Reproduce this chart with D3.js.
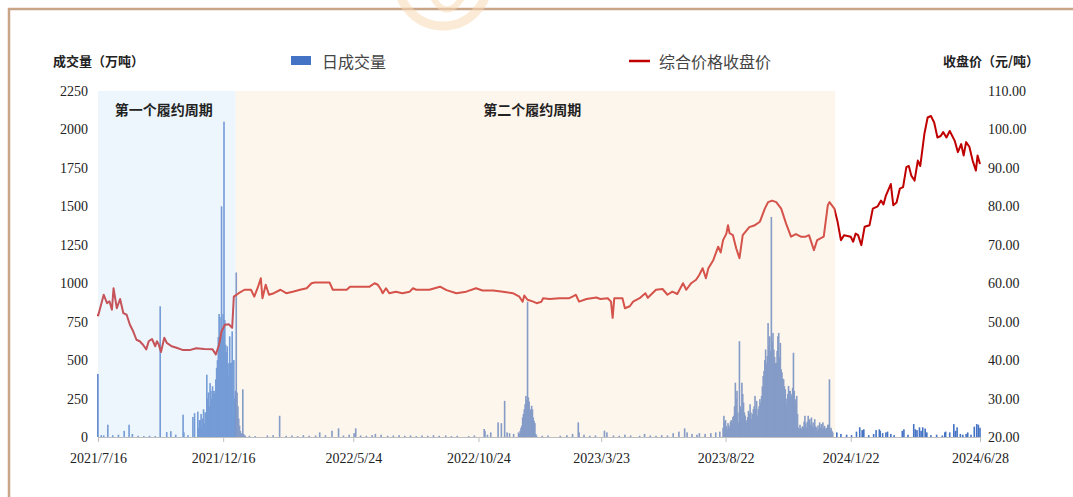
<!DOCTYPE html>
<html><head><meta charset="utf-8">
<script src="https://cdn.jsdelivr.net/npm/d3@7"></script>
<style>body{margin:0;background:#fff}svg{display:block}</style>
</head><body><svg id="c" width="1073" height="497"></svg>
<script>
// ---------------- DATA ----------------
const xTickLabels = ["2021/7/16","2021/12/16","2022/5/24","2022/10/24","2023/3/23","2023/8/22","2024/1/22","2024/6/28"];
const volumeTicks = [0,250,500,750,1000,1250,1500,1750,2000,2250];
const priceTicks = [20,30,40,50,60,70,80,90,100,110];
const periodNames = ["第一个履约周期","第二个履约周期"];
const periodStarts = ["2021-07-16","2021-12-31"];
const periodEnds = ["2021-12-31","2024-01-03"];

// 综合价格收盘价 (元/吨)
const closePrice = [
["2021-07-16",51.4],["2021-07-23",57.0],["2021-07-27",54.8],["2021-07-30",55.3],["2021-08-02",53.1],["2021-08-04",58.7],["2021-08-08",53.5],["2021-08-12",55.9],["2021-08-16",52.2],["2021-08-20",51.8],["2021-08-24",49.2],["2021-08-28",47.5],["2021-09-01",45.3],["2021-09-05",44.9],["2021-09-09",44.0],["2021-09-13",42.8],["2021-09-16",44.9],["2021-09-20",45.5],["2021-09-24",43.6],["2021-09-26",44.9],["2021-09-28",44.2],["2021-10-01",42.1],["2021-10-05",45.8],["2021-10-08",44.5],["2021-10-14",43.6],["2021-10-20",43.2],["2021-10-28",42.6],["2021-11-05",42.6],["2021-11-13",43.1],["2021-11-23",42.9],["2021-12-03",42.8],["2021-12-07",41.5],["2021-12-11",44.0],["2021-12-14",47.5],["2021-12-18",49.2],["2021-12-23",49.3],["2021-12-27",48.4],["2021-12-29",56.5],
["2022-01-04",57.4],["2022-01-11",58.3],["2022-01-19",58.3],["2022-01-23",56.5],["2022-01-27",58.7],["2022-01-31",61.3],["2022-02-02",56.1],["2022-02-06",59.6],["2022-02-10",57.0],["2022-02-16",57.4],["2022-02-24",58.3],["2022-03-03",57.4],["2022-03-11",57.8],["2022-03-20",58.3],["2022-03-28",58.7],["2022-04-03",60.0],["2022-04-07",60.2],["2022-04-25",60.2],["2022-04-29",58.3],["2022-05-16",58.3],["2022-05-20",59.1],["2022-06-13",59.1],["2022-06-19",60.0],["2022-06-23",59.6],["2022-06-27",58.3],["2022-06-29",57.4],["2022-07-03",58.7],["2022-07-07",57.4],["2022-07-15",57.8],["2022-07-23",57.4],["2022-08-01",57.8],["2022-08-05",58.7],["2022-08-09",58.3],["2022-08-25",58.3],["2022-09-07",59.1],["2022-09-15",58.2],["2022-09-27",57.4],["2022-10-09",57.8],["2022-10-21",58.7],["2022-10-29",58.1],["2022-11-11",58.1],["2022-11-23",57.8],["2022-12-05",57.4],["2022-12-13",56.5],["2022-12-17",55.2],["2022-12-19",56.8],["2022-12-23",55.7],["2022-12-30",55.2],
["2023-01-03",54.8],["2023-01-09",55.2],["2023-01-11",56.1],["2023-01-19",55.9],["2023-01-31",56.1],["2023-02-12",56.1],["2023-02-16",56.5],["2023-02-20",57.0],["2023-02-24",55.2],["2023-03-05",55.9],["2023-03-17",56.3],["2023-03-22",55.9],["2023-03-31",56.1],["2023-04-04",55.2],["2023-04-06",51.0],["2023-04-08",56.1],["2023-04-18",56.1],["2023-04-21",53.5],["2023-04-27",54.0],["2023-05-01",55.2],["2023-05-09",56.1],["2023-05-16",57.4],["2023-05-19",56.2],["2023-05-29",58.3],["2023-06-06",58.5],["2023-06-12",57.0],["2023-06-18",57.8],["2023-06-24",57.2],["2023-07-01",60.0],["2023-07-05",58.3],["2023-07-11",60.0],["2023-07-17",60.9],["2023-07-21",62.2],["2023-07-25",63.9],["2023-07-29",61.3],["2023-08-01",63.9],["2023-08-07",66.0],["2023-08-13",69.5],["2023-08-16",68.0],["2023-08-19",71.2],["2023-08-23",72.9],["2023-08-25",75.1],["2023-08-27",73.0],["2023-08-31",72.5],["2023-09-04",69.1],["2023-09-08",66.5],["2023-09-12",72.5],["2023-09-20",74.6],["2023-09-26",75.0],["2023-10-03",76.0],["2023-10-09",79.4],["2023-10-13",81.1],["2023-10-18",81.5],["2023-10-23",81.1],["2023-10-29",79.4],["2023-11-04",75.5],["2023-11-10",72.1],["2023-11-16",72.8],["2023-11-22",72.1],["2023-11-28",72.1],["2023-12-02",72.5],["2023-12-08",68.6],["2023-12-12",71.2],["2023-12-20",72.1],["2023-12-25",80.3],["2023-12-27",81.1],
["2024-01-02",79.4],["2024-01-06",75.9],["2024-01-10",71.2],["2024-01-14",72.5],["2024-01-22",72.1],["2024-01-25",70.8],["2024-01-28",72.9],["2024-01-31",72.5],["2024-02-04",69.9],["2024-02-08",74.7],["2024-02-14",75.1],["2024-02-18",79.4],["2024-02-24",80.0],["2024-02-28",81.5],["2024-03-02",80.5],["2024-03-05",82.8],["2024-03-11",85.8],["2024-03-14",80.3],["2024-03-18",81.0],["2024-03-22",84.6],["2024-03-26",85.0],["2024-03-30",90.2],["2024-04-02",90.5],["2024-04-05",88.0],["2024-04-09",86.7],["2024-04-13",91.9],["2024-04-16",90.5],["2024-04-21",98.8],["2024-04-25",103.1],["2024-04-29",103.5],["2024-05-03",101.8],["2024-05-07",97.9],["2024-05-11",98.3],["2024-05-14",99.3],["2024-05-18",97.9],["2024-05-22",99.6],["2024-05-28",97.1],["2024-06-01",94.1],["2024-06-05",96.2],["2024-06-08",93.2],["2024-06-11",96.7],["2024-06-15",95.5],["2024-06-19",91.9],["2024-06-23",89.3],["2024-06-25",93.2],["2024-06-28",91.0]
];

// 日成交量 (万吨): isolated trading days
const volumeDays = [
["2021-07-16",410],["2021-07-20",12],["2021-07-23",10],["2021-07-28",80],["2021-08-03",12],["2021-08-10",15],["2021-08-17",40],["2021-08-23",80],["2021-08-27",20],["2021-09-03",8],["2021-09-10",6],["2021-09-17",8],["2021-09-24",6],["2021-09-30",850],["2021-10-08",32],["2021-10-13",38],["2021-10-19",15],["2021-10-28",145],["2021-10-29",30],["2021-11-03",12],["2021-11-09",130],["2021-11-11",155],
["2022-01-17",8],["2022-01-24",6],["2022-02-08",10],["2022-02-15",12],["2022-02-23",138],["2022-03-03",8],["2022-03-10",10],["2022-03-17",6],["2022-03-24",12],["2022-03-31",8],["2022-04-08",10],["2022-04-13",30],["2022-04-20",12],["2022-04-28",41],["2022-05-06",56],["2022-05-12",10],["2022-05-19",15],["2022-05-25",25],["2022-05-27",56],["2022-06-02",10],["2022-06-09",8],["2022-06-16",12],["2022-06-20",20],["2022-06-27",15],["2022-07-05",8],["2022-07-12",10],["2022-07-19",12],["2022-07-26",8],["2022-08-02",10],["2022-08-09",6],["2022-08-16",10],["2022-08-23",8],["2022-08-30",12],["2022-09-06",8],["2022-09-14",10],["2022-09-21",6],["2022-09-28",8],["2022-10-12",6],["2022-10-19",10],["2022-10-31",52],["2022-11-01",40],["2022-11-04",15],["2022-11-08",30],["2022-11-17",95],["2022-11-21",90],["2022-11-25",235],["2022-11-28",30],["2022-12-01",25],["2022-12-06",20],
["2023-01-10",8],["2023-01-17",10],["2023-02-01",8],["2023-02-09",12],["2023-02-16",20],["2023-02-23",95],["2023-02-24",30],["2023-03-02",15],["2023-03-09",8],["2023-03-16",10],["2023-03-27",41],["2023-03-30",30],["2023-04-07",10],["2023-04-14",8],["2023-04-21",15],["2023-04-28",10],["2023-05-09",8],["2023-05-15",20],["2023-05-22",10],["2023-05-29",8],["2023-06-05",12],["2023-06-12",10],["2023-06-19",25],["2023-06-26",35],["2023-07-03",56],["2023-07-06",30],["2023-07-12",20],["2023-07-18",15],["2023-07-21",25],["2023-07-28",20],["2023-08-04",25],["2023-08-10",30],["2023-08-15",35],
["2024-01-05",30],["2024-01-10",20],["2024-01-17",15],["2024-01-23",12],["2024-01-29",35],["2024-02-02",63],["2024-02-05",45],["2024-02-07",50],["2024-02-13",12],["2024-02-19",20],["2024-02-22",45],["2024-02-26",50],["2024-02-27",40],["2024-03-01",25],["2024-03-05",30],["2024-03-07",35],["2024-03-11",20],["2024-03-15",12],["2024-03-25",40],["2024-03-27",50],["2024-04-01",15],["2024-04-08",84],["2024-04-10",50],["2024-04-12",45],["2024-04-15",63],["2024-04-17",40],["2024-04-19",63],["2024-04-22",55],["2024-04-24",30],["2024-04-29",12],["2024-05-06",15],["2024-05-13",10],["2024-05-16",30],["2024-05-17",35],["2024-05-22",30],["2024-05-27",84],["2024-05-29",40],["2024-05-31",63],["2024-06-04",20],["2024-06-07",15],["2024-06-11",20],["2024-06-13",30],["2024-06-17",15],["2024-06-21",67],["2024-06-24",84],["2024-06-26",80],["2024-06-28",60]
];
// 日成交量 (万吨): consecutive-day runs around compliance deadlines
const volumeRun1Start = "2021-11-15";
const volumeRun1 = [165,60,110,110,150,60,120,180,90,160,160,405,250,290,200,350,300,250,330,300,280,300,375,450,500,650,800,780,650,1500,700,800,2050,760,600,550,590,480,400,655,480,483,687,300,500,250,300,1070,289,200,120,73,40,25,20,310,20,12,8];
const volumeRun2Start = "2022-12-12";
const volumeRun2 = [30,20,40,60,73,127,150,180,213,267,240,880,257,230,160,180,203,180,127,105,90,20,10];
const volumeRun3Start = "2023-08-19";
const volumeRun3 = [60,138,100,110,70,50,90,75,60,100,110,90,130,138,200,353,250,300,160,95,623,200,180,353,280,224,160,140,110,95,130,170,150,213,160,116,150,181,200,267,180,235,140,181,200,246,220,267,330,396,429,500,569,480,526,741,600,655,560,1431,620,677,569,520,480,483,560,655,677,520,612,440,420,380,375,330,310,250,203,280,332,300,300,280,267,320,548,300,246,220,267,150,62,50,80,60,50,70,60,100,138,90,62,100,138,90,116,80,127,70,95,60,116,70,62,40,75,50,95,60,84,50,95,60,73,50,60,40,80,80,375,50,60,40,30];

// ---------------- CHART ----------------
const parse = d3.timeParse("%Y-%m-%d");
const parseTick = d3.timeParse("%Y/%m/%d");
const svg = d3.select("#c");
const L = 98, R = 980, T = 91, B = 437;

const x = d3.scaleTime().domain([parse("2021-07-16"), parse("2024-06-28")]).range([L, R]);
const yV = d3.scaleLinear().domain([0, 2250]).range([B, T]);
const yP = d3.scaleLinear().domain([20, 110]).range([B, T]);

// frame & watermark
svg.append("rect").attr("x",9).attr("y",9).attr("width",1200).attr("height",700)
  .attr("fill","none").attr("stroke","#c9a588").attr("stroke-width",2.5);
svg.append("circle").attr("cx",443).attr("cy",-19).attr("r",45)
  .attr("fill","none").attr("stroke","#f8d9b4").attr("stroke-width",9).attr("opacity",0.55);
svg.append("path").attr("d","M432,-4 Q446,22 462,-2").attr("fill","none")
  .attr("stroke","#f8d9b4").attr("stroke-width",6).attr("opacity",0.55);

// volume bars
const vol = volumeDays.map(d => ({date: parse(d[0]), v: d[1]}));
[[volumeRun1Start, volumeRun1],[volumeRun2Start, volumeRun2],[volumeRun3Start, volumeRun3]].forEach(([s, arr]) => {
  const s0 = parse(s);
  arr.forEach((v, i) => vol.push({date: d3.timeDay.offset(s0, i), v}));
});
svg.append("g").selectAll("rect").data(vol).join("rect")
  .attr("x", d => x(d.date) - 0.8).attr("width", 1.6)
  .attr("y", d => yV(d.v)).attr("height", d => B - yV(d.v))
  .attr("fill", "#4472c4");

// price line
const price = closePrice.map(d => ({date: parse(d[0]), p: d[1]}));
svg.append("path").datum(price)
  .attr("d", d3.line().x(d => x(d.date)).y(d => yP(d.p)))
  .attr("fill","none").attr("stroke","#c00000").attr("stroke-width",2).attr("stroke-linejoin","round");

// period shading (translucent overlay)
const periodFills = ["#cee5f6","#f9e5ce"];
periodNames.forEach((name, i) => {
  const x0 = x(parse(periodStarts[i])), x1 = x(parse(periodEnds[i]));
  svg.append("rect").attr("x", x0).attr("y", T).attr("width", x1 - x0).attr("height", B - T)
    .attr("fill", periodFills[i]).attr("opacity", 0.36);
  svg.append("text").attr("x", (x0 + x1) / 2 - 3).attr("y", T + 18)
    .attr("text-anchor","middle").attr("dominant-baseline","central")
    .attr("font-family","'Noto Sans CJK SC', sans-serif").attr("font-weight",700)
    .attr("font-size",14).attr("fill","#222").text(name);
});

// axes
const serif = "'Liberation Serif','Times New Roman',serif";
const xAxis = svg.append("g").attr("transform",`translate(0,${B})`)
  .call(d3.axisBottom(x).tickValues(xTickLabels.map(parseTick)).tickSize(5).tickPadding(11)
    .tickFormat((d, i) => xTickLabels[i]));
xAxis.select(".domain").attr("stroke","#bfbfbf");
xAxis.selectAll(".tick line").attr("stroke","#bfbfbf");
xAxis.selectAll("text").attr("font-family",serif).attr("font-size",14).attr("fill","#222");

const yLeft = svg.append("g").attr("transform",`translate(${L},0)`)
  .call(d3.axisLeft(yV).tickValues(volumeTicks).tickSize(0).tickPadding(10).tickFormat(d3.format("d")));
yLeft.select(".domain").remove();
yLeft.selectAll("text").attr("font-family",serif).attr("font-size",14).attr("fill","#222");

const yRight = svg.append("g").attr("transform",`translate(${R},0)`)
  .call(d3.axisRight(yP).tickValues(priceTicks).tickSize(0).tickPadding(8).tickFormat(d3.format(".2f")));
yRight.select(".domain").remove();
yRight.selectAll("text").attr("font-family",serif).attr("font-size",14).attr("fill","#222");

// axis titles
const cjk = "'Noto Sans CJK SC', sans-serif";
svg.append("text").attr("x",53).attr("y",60).attr("dominant-baseline","central")
  .attr("font-family",cjk).attr("font-weight",700).attr("font-size",13).attr("fill","#222").text("成交量（万吨）");
svg.append("text").attr("x",943).attr("y",60).attr("dominant-baseline","central")
  .attr("font-family",cjk).attr("font-weight",700).attr("font-size",13).attr("fill","#222").text("收盘价（元/吨）");

// legend
svg.append("rect").attr("x",291).attr("y",56).attr("width",20).attr("height",9).attr("fill","#4472c4");
svg.append("text").attr("x",322).attr("y",61).attr("dominant-baseline","central")
  .attr("font-family",cjk).attr("font-size",16).attr("fill","#444").text("日成交量");
svg.append("line").attr("x1",629).attr("x2",650).attr("y1",61).attr("y2",61)
  .attr("stroke","#c00000").attr("stroke-width",2.5);
svg.append("text").attr("x",659).attr("y",61).attr("dominant-baseline","central")
  .attr("font-family",cjk).attr("font-size",16).attr("fill","#444").text("综合价格收盘价");
</script></body></html>
